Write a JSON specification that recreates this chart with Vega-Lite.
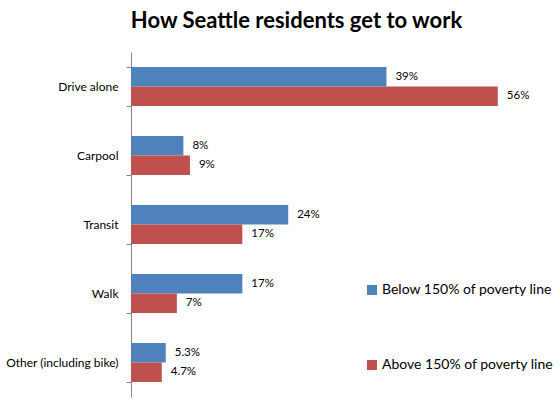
{
  "$schema": "https://vega.github.io/schema/vega-lite/v6.json",
  "width": 393,
  "height": 345,
  "autosize": {"type": "none"},
  "padding": {"left": 131, "top": 52, "right": 36, "bottom": 9},
  "background": "white",
  "title": {
    "text": "How Seattle residents get to work",
    "anchor": "middle",
    "dx": -31,
    "offset": 13,
    "fontSize": 22,
    "font": "Lato",
    "fontWeight": "bold",
    "color": "#000000"
  },
  "data": {
    "values": [
      {"mode": "Drive alone", "group": "Below 150% of poverty line", "value": 39, "label": "39%"},
      {"mode": "Drive alone", "group": "Above 150% of poverty line", "value": 56, "label": "56%"},
      {"mode": "Carpool", "group": "Below 150% of poverty line", "value": 8, "label": "8%"},
      {"mode": "Carpool", "group": "Above 150% of poverty line", "value": 9, "label": "9%"},
      {"mode": "Transit", "group": "Below 150% of poverty line", "value": 24, "label": "24%"},
      {"mode": "Transit", "group": "Above 150% of poverty line", "value": 17, "label": "17%"},
      {"mode": "Walk", "group": "Below 150% of poverty line", "value": 17, "label": "17%"},
      {"mode": "Walk", "group": "Above 150% of poverty line", "value": 7, "label": "7%"},
      {"mode": "Other (including bike)", "group": "Below 150% of poverty line", "value": 5.3, "label": "5.3%"},
      {"mode": "Other (including bike)", "group": "Above 150% of poverty line", "value": 4.7, "label": "4.7%"}
    ]
  },
  "encoding": {
    "y": {
      "field": "mode",
      "type": "nominal",
      "sort": ["Drive alone", "Carpool", "Transit", "Walk", "Other (including bike)"],
      "scale": {"paddingInner": 0.435, "paddingOuter": 0.2175},
      "axis": {
        "title": null,
        "tickBand": "extent",
        "domainColor": "#868686",
        "tickColor": "#868686",
        "tickSize": 5,
        "labelPadding": 8,
        "labelFont": "Lato",
        "labelFontSize": 12,
        "labelColor": "#000000"
      }
    },
    "yOffset": {
      "field": "group",
      "sort": ["Below 150% of poverty line", "Above 150% of poverty line"]
    },
    "x": {
      "field": "value",
      "type": "quantitative",
      "scale": {"domain": [0, 60]},
      "axis": null
    }
  },
  "layer": [
    {
      "mark": {"type": "bar"},
      "encoding": {
        "color": {
          "field": "group",
          "type": "nominal",
          "sort": ["Below 150% of poverty line", "Above 150% of poverty line"],
          "scale": {"range": ["#4F81BD", "#C0504D"]},
          "legend": {
            "title": null,
            "orient": "none",
            "legendX": 234,
            "legendY": 231,
            "symbolType": "square",
            "symbolSize": 100,
            "symbolOpacity": 1,
            "symbolStrokeWidth": 0,
            "labelOffset": 3,
            "labelFont": "Lato",
            "labelFontSize": 14,
            "labelColor": "#000000",
            "rowPadding": 61,
            "labelLimit": 300
          }
        }
      }
    },
    {
      "mark": {"type": "text", "align": "left", "dx": 9, "font": "Lato", "fontSize": 11.5, "color": "#000000"},
      "encoding": {"text": {"field": "label"}}
    }
  ],
  "config": {"view": {"stroke": null}}
}
